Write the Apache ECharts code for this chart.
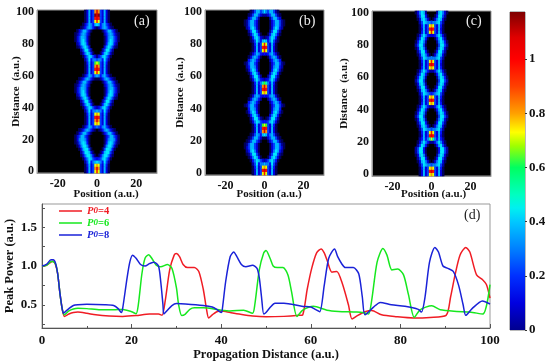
<!DOCTYPE html>
<html><head><meta charset="utf-8">
<style>html,body{margin:0;padding:0;background:#fff}#c{width:550px;height:363px}</style>
<script src="https://cdn.jsdelivr.net/npm/echarts@6/dist/echarts.min.js"></script>
</head><body><div id="c"></div>
<script>
// Peak-power curves: [distance, power]
const redPower = [[0,1],[1,1.01],[2,1.05],[2.5,1.06],[3,1.02],[3.5,.9],[4,.65],[4.5,.45],[5,.35],[6,.38],[7,.4],[8,.405],[10,.39],[12,.37],[15,.355],[18,.35],[21,.36],[24,.38],[26,.38],[26.8,.365],[27.5,.55],[28.5,.95],[29.5,1.14],[30,1.16],[30.7,1.12],[31.5,1.02],[32.5,.98],[34,.98],[35,.93],[36,.7],[36.7,.45],[37.2,.33],[38,.37],[39,.41],[40,.42],[42,.4],[44,.38],[47,.355],[50,.345],[54,.35],[57.4,.363],[58.2,.37],[59.2,.7],[60.2,.97],[61.3,1.17],[62.3,1.22],[63,1.17],[63.6,1.08],[64.7,.92],[65.8,.93],[67,.78],[68.4,.5],[69.2,.316],[70.4,.36],[72.1,.41],[73.6,.427],[75.8,.37],[79.2,.346],[82.9,.33],[86.6,.337],[90.2,.363],[91.2,.6],[92.2,.885],[93.3,1.14],[94.6,1.24],[95.5,1.18],[97,.885],[98.4,.82],[99.2,.76],[100,.585]];
const greenPower = [[0,1],[1,1.01],[2.2,1.06],[3,1.03],[3.5,.9],[4,.65],[4.5,.45],[5,.37],[6,.42],[7,.445],[8,.455],[10,.45],[13,.435],[16,.435],[18,.44],[20,.41],[21,.385],[21.5,.5],[22.3,.9],[23,1.1],[23.8,1.145],[24.5,1.1],[25.5,1.01],[26.5,.99],[28,1.02],[29,.97],[30,.72],[30.5,.5],[31.2,.36],[32,.38],[33,.44],[34,.46],[36,.46],[40,.43],[42,.42],[45,.43],[47,.39],[47.5,.5],[48.5,.95],[49.5,1.17],[50,1.2],[50.9,1.1],[51.6,1],[52.5,.98],[53.8,.98],[54.9,.885],[55.7,.67],[56.9,.35],[58.2,.43],[60.6,.48],[63.6,.43],[66.2,.414],[70.3,.406],[72.1,.393],[72.9,.38],[73.6,.56],[74.8,1.05],[76.1,1.226],[77,1.14],[78.1,.95],[79.4,.96],[80.7,.885],[81.8,.63],[83.1,.337],[84.4,.435],[87,.487],[88.9,.435],[92.6,.414],[95.5,.406],[98.4,.38],[100,.76]];
const bluePower = [[0,1],[1,1.02],[2,1.08],[2.5,1.08],[3,1.04],[3.5,.9],[4,.65],[4.5,.45],[4.8,.39],[5,.4],[6,.45],[7,.49],[8,.5],[10,.505],[14,.5],[16,.49],[17,.45],[17.7,.4],[18,.45],[19,.85],[19.6,1.05],[20.2,1.14],[21,1.1],[22,1.02],[23,1],[24,1.03],[25,1.05],[26,1],[26.5,.8],[27,.5],[27.2,.38],[28,.43],[29,.49],[30,.515],[32,.51],[36,.49],[38,.47],[39,.44],[40,.4],[40.2,.42],[41,.8],[42,1.12],[42.8,1.18],[43.5,1.12],[44.5,1.02],[45.5,.99],[47,1.01],[48,.97],[48.5,.85],[49,.6],[49.5,.38],[50,.4],[51,.47],[52,.52],[54,.52],[58,.48],[60,.47],[61,.44],[62,.41],[63,.75],[64,1.1],[65.3,1.218],[66,1.12],[67,1.02],[67.7,.98],[69.5,.98],[70.7,.9],[71.5,.6],[72.1,.37],[74,.47],[75.5,.53],[78,.5],[81,.48],[84,.44],[84.7,.405],[85.5,.6],[86.5,1.05],[87.7,1.24],[88.5,1.18],[89.5,1],[90.6,.97],[91.8,.93],[93,.75],[94,.5],[94.6,.363],[96,.45],[98.3,.55],[100,.51]];

// Heat-map rows: one string per distance 0,2,...,100 (bottom to top); one character
// per position 0,1,2,... outward from the centre, an index into heatLevels.
const panelARows = ["db53731","ec53731","cb53741","8764852","34578641","0136886310","0013788520","0001588741","00002688631","000014787521","000013677631","000013577531","00013577531","0124676421","65467531","cb53731","ec53731","ed53731","cb53741","7664852","23578641","0014786310","000258852","00003687521","00001478742","000013687531","000013677531","000024676421","00013577531","1124676421","76467531","db53731","ed53731","ec53731","ba53741","5664852","13578641","0014786310","000258852","00003687521","00001478742","000013687531","000013677531","000024676421","00013577531","124676421","87467531","db53731","ed53731","ef53731","ec53731"];
const panelBRows = ["db53731","ed53731","cb53741","7664852","23578641","0014786310","0002588521","0001368742","00013577531","00013577521","0013577521","113577521","87467521","ec53731","ed53731","ba53741","44578631","012588520","000368741","0001478631","000136774","00013577521","000246764","002467631","43467631","cb53731","ed53731","ec53731","a964741","23468631","002588520","000368741","0001478631","0001367742","00013577521","000246764","001467631","43467531","db53731","ed53731","db53741","87468521","123687410","0014786310","000258852","0001368742","00013577521","00013577521","000257753","223577521","86577521"];
const panelCRows = ["cb53731","ed53731","cb53741","5667852","01368731","00148852","000268731","000148852","000148852","00147852","22468631","b964742","ed53731","db53741","5667852","01368731","00148852","000268731","000158852","000268741","00147852","22468631","cb53741","ed53731","cb53741","4567852","01368731","00148852","000268731","000158852","000268741","00147852","22468631","cb53741","ed53731","db53741","6667852","01368731","00148852","000268731","000158852","000268741","00147852","33468631","db53741","ed53731","cb53741","5667852","01368731","00148852","000278631"];

const heatLevels = [0,.03,.07,.12,.18,.24,.3,.36,.42,.5,.6,.72,.85,1,1.1,1.17];
const heatColors = ["#000000","#000058","#0000a0","#0000e0","#0010ff","#0040ff","#0080ff","#00b8ff","#00e8ff","#00ffb0","#40ff20","#e8ff00","#ff9000","#ff1000","#d80000","#900000"];

const positionLabels = [-20, 0, 20];
const distanceLabels = [0, 20, 40, 60, 80, 100];
const powerTicks = [.25,.5,.75,1,1.25,1.5,1.75];
const powerLabels = [.5,1,1.5];
const colorbarLabels = [0,.2,.4,.6,.8,1];
const colorbarMax = 1.174;
const colorbarStops = [[0,"#00008f"],[.1,"#0000e0"],[.2,"#0030ff"],[.3,"#0080ff"],[.4,"#00c8ff"],[.45,"#00f0f0"],[.5,"#00ffc0"],[.6,"#00ff60"],[.68,"#a0ff00"],[.73,"#ffff00"],[.8,"#ffa000"],[.9,"#ff4000"],[1,"#ff0000"],[1.08,"#e00000"],[1.174,"#7f0000"]];

const serif = "'Liberation Serif','Times New Roman',serif";
const bold = (size, color) => ({fontFamily: serif, fontWeight: "bold", fontSize: size, color: color || "#111"});

const xCats = []; for (let x = -30; x <= 30; x++) xCats.push(String(x));
const zCats = []; for (let z = 0; z <= 100; z += 2) zCats.push(String(z));

function cells(rows) {
  const out = [];
  rows.forEach((row, j) => {
    for (let i = 0; i < row.length; i++) {
      const level = heatLevels[parseInt(row[i], 16)];
      if (!level) continue;
      out.push([String(i), String(j * 2), level]);
      if (i > 0) out.push([String(-i), String(j * 2), level]);
    }
  });
  return out;
}

const panels = [
  {rows: panelARows, left: 37, top: 10, width: 120, height: 163, nameShift: 18, nameGap: 16, yGap: 15},
  {rows: panelBRows, left: 205, top: 10, width: 119, height: 165, nameShift: 9, nameGap: 14, yGap: 19},
  {rows: panelCRows, left: 372, top: 11, width: 119, height: 165, nameShift: 4, nameGap: 13, yGap: 22}
];

const grids = panels.map(p => ({left: p.left, top: p.top, width: p.width, height: p.height, show: true, backgroundColor: "#000", borderColor: "#999", borderWidth: 1, outerBoundsMode: "none"}));
grids.push({left: 42, top: 204, width: 448, height: 124, show: true, backgroundColor: "#fff", borderColor: "#999", borderWidth: 1, outerBoundsMode: "none"});
grids.push({left: 510, top: 12, width: 15, height: 318, show: true, backgroundColor: "#fff", borderColor: "#777", borderWidth: 1, outerBoundsMode: "none"});

const xAxes = panels.map((p, i) => ({
  type: "category", gridIndex: i, data: xCats, boundaryGap: true, nameMoveOverlap: false,
  name: "Position (a.u.)", nameLocation: "middle", nameGap: p.nameGap,
  nameTextStyle: Object.assign(bold(11), {padding: [0, 0, 0, p.nameShift]}),
  axisLine: {lineStyle: {color: "#999"}}, axisTick: {show: false},
  axisLabel: Object.assign(bold(12), {margin: 5, interval: (idx, val) => positionLabels.includes(+val)})
}));
xAxes.push({type: "value", gridIndex: 3, min: 0, max: 100, interval: 20, nameMoveOverlap: false,
  name: "Propagation Distance (a.u.)", nameLocation: "middle", nameGap: 20, nameTextStyle: bold(12.5),
  axisLine: {lineStyle: {color: "#555"}}, axisTick: {inside: true, length: 4, lineStyle: {color: "#555"}},
  minorTick: {show: true, splitNumber: 2, length: 2, lineStyle: {color: "#555"}},
  splitLine: {show: false}, axisLabel: Object.assign(bold(13), {margin: 6})});
xAxes.push({type: "category", gridIndex: 4, data: ["scale"], show: false});

const yAxes = panels.map((p, i) => ({
  type: "category", gridIndex: i, data: zCats, boundaryGap: true, nameMoveOverlap: false,
  name: "Distance  (a.u.)", nameLocation: "middle", nameGap: p.yGap, nameTextStyle: bold(11),
  axisLine: {lineStyle: {color: "#999"}}, axisTick: {show: false},
  axisLabel: Object.assign(bold(12), {margin: 3, interval: (idx, val) => distanceLabels.includes(+val)})
}));
yAxes.push({type: "value", gridIndex: 3, min: .2, max: 1.8, nameMoveOverlap: false,
  name: "Peak Power (a.u.)", nameLocation: "middle", nameGap: 26, nameTextStyle: bold(12.5),
  axisLine: {show: true, lineStyle: {color: "#555"}},
  axisTick: {show: true, inside: true, length: 3, customValues: powerTicks, lineStyle: {color: "#555"}},
  splitLine: {show: false},
  axisLabel: Object.assign(bold(13), {margin: 5, customValues: powerLabels, formatter: v => v.toFixed(1)})});
yAxes.push({type: "value", gridIndex: 4, min: 0, max: colorbarMax, position: "right",
  axisLine: {show: false}, splitLine: {show: false},
  axisTick: {show: true, length: 2, customValues: colorbarLabels, lineStyle: {color: "#333"}},
  axisLabel: Object.assign(bold(13), {margin: 4, customValues: colorbarLabels, formatter: v => String(v)})});

const series = panels.map((p, i) => ({type: "heatmap", xAxisIndex: i, yAxisIndex: i, data: cells(p.rows), silent: true}));
[["P0=4", redPower, "#f01c24"], ["P0=6", greenPower, "#16e81e"], ["P0=8", bluePower, "#1a22d8"]].forEach(([name, data, color]) => {
  series.push({type: "line", name, xAxisIndex: 3, yAxisIndex: 3, data, symbol: "none", smooth: .25, color, lineStyle: {color, width: 1.5}, z: 3});
});
series.push({type: "bar", xAxisIndex: 4, yAxisIndex: 4, data: [colorbarMax], barWidth: "100%", silent: true,
  itemStyle: {color: new echarts.graphic.LinearGradient(0, 1, 0, 0, colorbarStops.map(([v, c]) => ({offset: v / colorbarMax, color: c})))}});

const tag = (text, left, top, color) => ({text, left, top, textStyle: {fontFamily: serif, fontWeight: "normal", fontSize: 14, color}, padding: 0});

const chart = echarts.init(document.getElementById("c"), null, {renderer: "canvas"});
chart.setOption({
  animation: false, backgroundColor: "#fff",
  title: [tag("(a)", 134, 14, "#eee"), tag("(b)", 299, 14, "#eee"), tag("(c)", 466, 14, "#eee"), tag("(d)", 464, 208, "#222")],
  grid: grids, xAxis: xAxes, yAxis: yAxes, series,
  visualMap: {type: "piecewise", show: false, seriesIndex: [0, 1, 2], dimension: 2,
    pieces: heatLevels.map((v, i) => ({min: v - .001, max: v + .001, color: heatColors[i]}))},
  legend: {show: true, orient: "vertical", left: 54, top: 200, itemWidth: 23, itemHeight: 1.5, itemGap: 0, icon: "rect",
    data: ["P0=4", "P0=6", "P0=8"],
    formatter: n => `{p|P}{s|0}{r|${n.slice(2)}}`,
    textStyle: {fontFamily: serif, fontWeight: "bold", fontSize: 10.5, lineHeight: 12, color: "inherit",
      rich: {p: {fontFamily: serif, fontWeight: "bold", fontStyle: "italic", fontSize: 10.5},
             s: {fontFamily: serif, fontWeight: "bold", fontStyle: "italic", fontSize: 9},
             r: {fontFamily: serif, fontWeight: "bold", fontSize: 10.5}}}}
});
</script></body></html>
